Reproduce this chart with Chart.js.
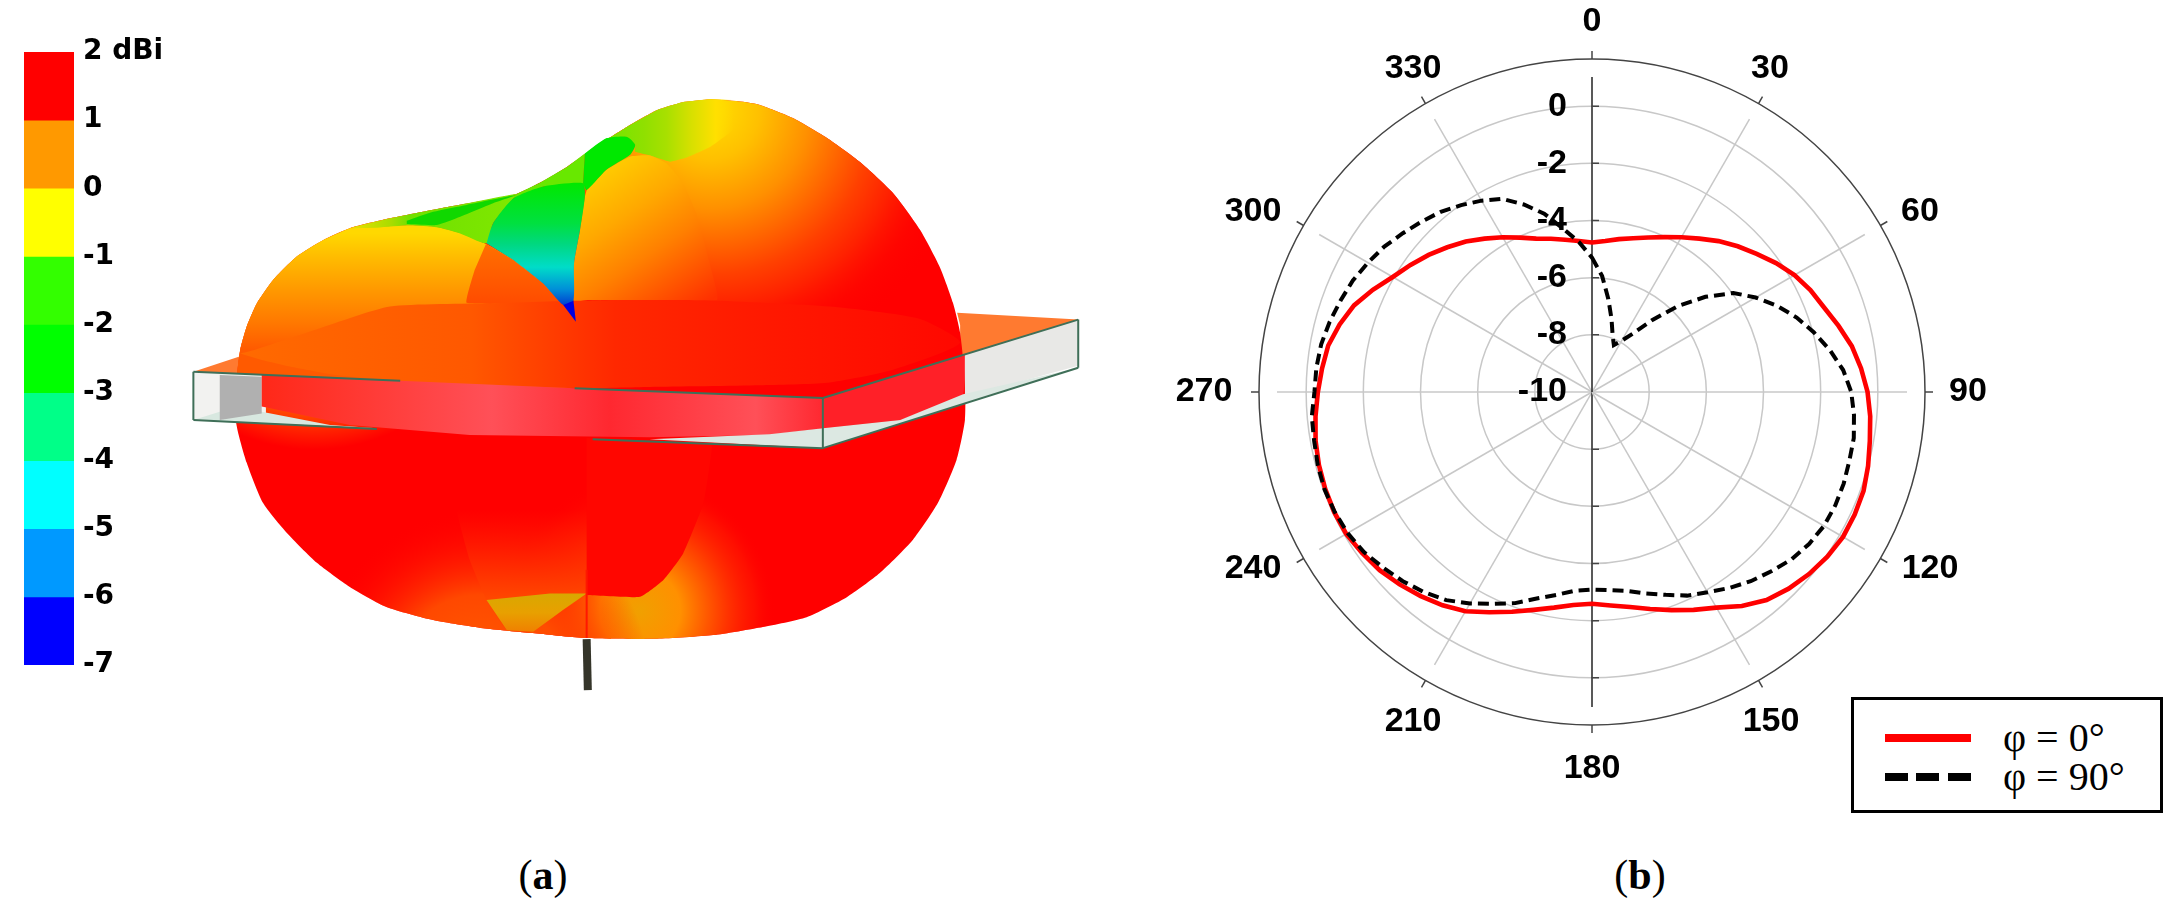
<!DOCTYPE html>
<html>
<head>
<meta charset="utf-8">
<title>Radiation pattern</title>
<script src="https://cdn.jsdelivr.net/npm/chart.js@4"></script>
<style>
  html, body { margin: 0; background: #fff; width: 2169px; height: 922px; overflow: hidden; }
  canvas { position: absolute; display: block; }
  .caption { position: absolute; top: 851px; font: 42px "Liberation Serif", serif; color: #000; transform: translateX(-50%); }
  #legend { position: absolute; left: 1851px; top: 697px; width: 306px; height: 110px; border: 3px solid #000; background: #fff; }
  .swatch { position: absolute; left: 31px; width: 86px; height: 8px; }
  .entry { position: absolute; left: 149px; font: 40px "Liberation Serif", serif; line-height: 40px; white-space: nowrap; }
</style>
</head>
<body>
<canvas id="barChart" width="174" height="700" style="left:0;top:0"></canvas>
<canvas id="patternChart" width="940" height="640" style="left:170px;top:80px"></canvas>
<canvas id="polarChart" width="840" height="784" style="left:1172px;top:0"></canvas>
<div class="caption" style="left:543px">(<b>a</b>)</div>
<div class="caption" style="left:1640px">(<b>b</b>)</div>
<div id="legend"></div>

<script>
// colour bar
const bandLow = [1, 0, -1, -2, -3, -4, -5, -6, -7];
const bandColors = ['#ff0000', '#ff9900', '#ffff00', '#33ff00', '#00ff00', '#00ff88', '#00ffff', '#0099ff', '#0000ff'];

// polar pattern, dB read every 5 degrees
const angles = [0, 5, 10, 15, 20, 25, 30, 35, 40, 45, 50, 55, 60, 65, 70, 75, 80, 85, 90, 95, 100, 105, 110, 115,
  120, 125, 130, 135, 140, 145, 150, 155, 160, 165, 170, 175, 180, 185, 190, 195, 200, 205, 210, 215, 220, 225, 230, 235,
  240, 245, 250, 255, 260, 265, 270, 275, 280, 285, 290, 295, 300, 305, 310, 315, 320, 325, 330, 335, 340, 345, 350, 355];
const phi0 = [-4.77, -4.70, -4.57, -4.43, -4.25, -4.02, -3.75, -3.45, -3.11, -2.79, -2.48, -2.14,
  -1.82, -1.57, -1.36, -1.07, -0.77, -0.55, -0.36, -0.23, -0.13, 0.0, 0.11, 0.14,
  0.14, 0.05, -0.09, -0.27, -0.50, -0.86, -1.29, -1.59, -1.88, -2.14, -2.36, -2.50,
  -2.59, -2.52, -2.34, -2.11, -1.82, -1.50, -1.14, -0.89, -0.68, -0.48, -0.30, -0.18,
  -0.07, -0.05, -0.07, -0.11, -0.18, -0.29, -0.41, -0.52, -0.63, -0.86, -1.14, -1.54,
  -1.95, -2.25, -2.54, -2.84, -3.13, -3.45, -3.75, -4.04, -4.29, -4.45, -4.59, -4.70];
const phi90 = [-5.30, -5.93, -6.70, -7.36, -7.89, -8.19, -7.93, -7.50, -6.71, -5.75, -4.82, -3.96,
  -3.39, -2.86, -2.38, -1.96, -1.55, -1.18, -0.93, -0.80, -0.70, -0.68, -0.63, -0.61,
  -0.63, -0.73, -0.89, -1.13, -1.36, -1.63, -1.91, -2.14, -2.45, -2.70, -2.93, -3.04,
  -3.09, -3.02, -2.79, -2.52, -2.14, -1.82, -1.46, -1.11, -0.86, -0.64, -0.45, -0.25,
  -0.13, -0.07, -0.04, -0.07, -0.13, -0.16, -0.29, -0.32, -0.38, -0.50, -0.64, -0.77,
  -0.95, -1.13, -1.36, -1.57, -1.77, -2.02, -2.27, -2.54, -3.02, -3.54, -4.20, -4.73];
const legendNames = ['φ = 0°', 'φ = 90°'];

// 3D pattern outlines, in sketch units (0-1568 both ways)
const blob = [[901,47],[956,53],[984,61],[1039,93],[1096,142],[1151,201],[1206,277],[1251,367],[1284,458],[1306,546],[1318,620],[1326,735],[1326,833],[1312,931],[1281,1036],[1239,1127],[1184,1208],[1129,1267],[1062,1316],[989,1340],[906,1360],[812,1369],[689,1367],[605,1355],[522,1343],[439,1323],[361,1291],[300,1242],[245,1183],[195,1110],[155,1036],[128,938],[111,845],[110,750],[117,662],[128,604],[145,547],[172,490],[211,433],[256,392],[300,363],[367,339],[467,310],[578,279],[617,252],[662,213],[706,167],[762,115],[812,74],[856,54]];
const leftLobe = [[300,363],[256,392],[211,433],[172,490],[145,547],[128,604],[117,662],[110,750],[110,800],[660,800],[656,551],[622,498],[573,441],[527,402],[484,375],[445,360],[400,356],[345,360]];
const innerLeft = [[527,402],[573,441],[622,498],[656,551],[650,546],[495,546],[508,466]];
const innerRight = [[695,270],[728,220],[767,188],[801,185],[828,204],[856,253],[878,327],[887,376],[906,482],[912,539],[698,539],[673,541],[674,449],[684,367],[692,286]];
const valleyMain = [[528,400],[539,351],[573,290],[623,261],[689,253],[692,286],[684,367],[674,449],[673,541],[656,551],[622,498],[573,441]];
const valleyTip = [[656,551],[673,541],[677,592]];
const valleyStrip = [[300,363],[367,339],[467,310],[578,279],[573,290],[539,351],[528,400],[484,376],[445,361],[400,356],[345,362]];
const darkBand = [[395,353],[445,355],[484,335],[539,302],[578,282],[495,306],[439,323],[395,345]];
const lightPatch = [[578,279],[617,252],[662,213],[692,180],[689,253],[662,261],[623,261],[573,290]];
const valleyTop = [[692,180],[706,167],[762,115],[812,74],[856,54],[901,47],[940,50],[940,120],[900,165],[862,190],[834,200],[801,185],[776,176],[776,159],[762,139],[728,143]];
const ridgeGreen = [[692,180],[728,143],[762,139],[776,159],[767,184],[728,220],[695,270],[689,253]];
const plateLeft = [[39,715],[131,670],[153,686],[200,702],[278,723],[384,737]];
const plateRight = [[1313,570],[1515,587],[1089,779],[670,755],[800,752],[984,742],[1096,742],[1206,710],[1318,644],[1318,600]];
const disc = [[117,670],[139,662],[250,608],[367,555],[534,547],[700,540],[900,540],[1100,555],[1250,585],[1318,644],[1206,710],[1096,742],[984,748],[800,752],[670,755],[384,737],[278,723],[200,702],[153,686]];
const faceLeft = [[39,715],[160,722],[160,825],[39,833]];
const hatchPatch = [[83,723],[153,727],[153,817],[83,833]];
const bottomLeft = [[39,833],[83,813],[153,813],[267,845],[345,853]];
const bandFront = [[153,722],[384,737],[675,755],[1089,779],[1089,853],[1000,870],[800,875],[500,870],[300,845],[153,800]];
const bandRight = [[1089,779],[1326,673],[1326,735],[1323,776],[1218,833],[1089,853]];
const faceRight = [[1326,673],[1515,587],[1515,700],[1326,776]];
const bottomRight = [[1323,770],[1515,705],[1089,902],[800,880],[1000,868],[1089,853],[1218,833]];
const lowerLeft = [[470,874],[478,1054],[500,1176],[528,1274],[562,1348],[606,1352],[656,1298],[695,1258],[695,870]];
const lowerRight = [[695,877],[903,894],[903,914],[890,1036],[856,1160],[823,1225],[784,1266],[695,1262]];
const lowerGold = [[528,1274],[634,1258],[695,1258],[656,1298],[606,1352],[562,1348]];
const axisStrip = [[695,1200],[695,1367]];
const feedRod = [[695,1370],[697,1495]];
const edges = [
  [[39,715],[384,737]], [[675,755],[1089,779]], [[39,833],[345,855]], [[705,880],[1089,902]],
  [[1089,779],[1515,587]], [[1089,902],[1515,705]], [[1515,587],[1515,705]], [[39,715],[39,833]], [[1089,779],[1089,902]]
];

const toXY = pts => pts.map(p => ({ x: p[0], y: p[1] }));

// gradients are worked out from the chart scales so they stay on the shapes
function linear(x0, y0, x1, y1, stops) {
  return ctx => {
    if (!ctx.chart.chartArea) return 'transparent';
    const { x, y } = ctx.chart.scales;
    const g = ctx.chart.ctx.createLinearGradient(x.getPixelForValue(x0), y.getPixelForValue(y0), x.getPixelForValue(x1), y.getPixelForValue(y1));
    stops.forEach(s => g.addColorStop(s[0], s[1]));
    return g;
  };
}
function radial(cx, cy, radius, stops) {
  return ctx => {
    if (!ctx.chart.chartArea) return 'transparent';
    const { x, y } = ctx.chart.scales;
    const px = x.getPixelForValue(cx), py = y.getPixelForValue(cy);
    const g = ctx.chart.ctx.createRadialGradient(px, py, 0, px, py, radius);
    stops.forEach(s => g.addColorStop(s[0], s[1]));
    return g;
  };
}
const shape = (pts, bg, tension) => ({ data: toXY(pts), fill: 'shape', backgroundColor: bg, borderWidth: 0, tension: tension || 0 });
const stroke = (pts, color, width) => ({ data: toXY(pts), fill: false, borderColor: color, borderWidth: width });

// bottom layer first
const layers = [
  shape(plateLeft, '#ff7a30'),
  shape(plateRight, '#ff7a30'),
  shape(blob, '#ff0000', 0.2),
  shape(blob, radial(901, 73, 330, [[0, '#ffe000'], [0.15, '#ffc000'], [0.3, '#ff9000'], [0.42, '#ff6000'], [0.5, '#ff4000'], [0.6, '#ff2000'], [0.7, 'rgba(255,10,0,0.5)'], [0.8, 'rgba(255,0,0,0)']]), 0.2),
  shape(blob, radial(784, 1300, 135, [[0, '#f0a000'], [0.3, '#ff9000'], [0.6, 'rgba(255,70,0,0.9)'], [0.85, 'rgba(255,30,0,0.5)'], [1, 'rgba(255,0,0,0)']]), 0.2),
  shape(blob, radial(517, 1470, 170, [[0, '#ff6000'], [0.5, 'rgba(255,80,0,0.9)'], [1, 'rgba(255,0,0,0)']]), 0.2),
  shape(blob, radial(240, 440, 190, [[0, '#ffb000'], [0.55, '#ff9000'], [0.8, 'rgba(255,110,0,0.7)'], [1, 'rgba(255,90,0,0)']]), 0.2),
  shape(leftLobe, linear(0, 376, 0, 661, [[0, '#ffd800'], [0.2, '#ffbc00'], [0.49, '#ff9800'], [0.77, '#ff7800'], [1, '#ff5a00']]), 0.15),
  shape(innerLeft, linear(0, 402, 0, 546, [[0, '#ff7000'], [1, '#ff4c00']]), 0.1),
  shape(valleyTop, linear(692, 0, 940, 0, [[0, '#60e800'], [0.4, '#90e000'], [0.55, '#a8e000'], [0.72, '#d8e000'], [0.88, '#ffe000'], [1, 'rgba(255,220,0,0)']]), 0.1),
  shape(innerRight, linear(734, 171, 901, 539, [[0, '#ffd400'], [0.35, '#ffa800'], [0.6, '#ff8000'], [1, '#ff3000']]), 0.15),
  shape(lowerLeft, linear(0, 1054, 0, 1274, [[0, 'rgba(255,0,0,0.6)'], [1, 'rgba(255,72,0,1)']]), 0.1),
  shape(lowerRight, '#ff0600', 0.15),
  shape(lowerGold, linear(0, 1258, 0, 1352, [[0, '#d8a800'], [0.5, '#e8a000'], [1, '#f08000']])),
  stroke(axisStrip, '#ff1800', 2),
  shape(disc, linear(120, 0, 1318, 0, [[0, '#ff6a00'], [0.32, '#ff5800'], [0.52, '#ff2800'], [0.74, '#ff1800'], [1, '#ff0800']]), 0.2),
  shape(valleyStrip, linear(300, 0, 578, 0, [[0, '#ece000'], [0.25, '#a8dc00'], [0.36, '#70e000'], [1, '#80e800']]), 0.2),
  shape(darkBand, '#10d800', 0.2),
  shape(lightPatch, '#68e800'),
  shape(ridgeGreen, '#00e800', 0.2),
  shape(valleyMain, linear(0, 253, 0, 551, [[0, '#00e800'], [0.33, '#00e040'], [0.5, '#00d880'], [0.69, '#00dcc8'], [0.87, '#0090d8'], [1, '#0040d0']]), 0.2),
  shape(valleyTip, '#0000e0'),
  shape(faceLeft, '#f2f2f0'),
  shape(bottomLeft, '#d8e8e0'),
  shape(hatchPatch, '#b0b0b0'),
  shape(bandFront, linear(153, 0, 1089, 0, [[0, '#ff2818'], [0.41, '#ff5058'], [0.62, '#ff2830'], [0.88, '#ff5058'], [1, '#ff2830']])),
  shape(bandRight, '#ff2028'),
  shape(faceRight, '#e8e8e6'),
  shape(bottomRight, '#dce8e2'),
  stroke(feedRod, '#35352a', 8)
].concat(edges.map(e => stroke(e, '#3f6f58', 2)));
layers.forEach((d, i) => { d.order = layers.length - i; d.pointRadius = 0; });

new Chart(document.getElementById('patternChart'), {
  type: 'line',
  data: { datasets: layers },
  options: {
    responsive: false,
    animation: false,
    events: [],
    layout: { padding: 0 },
    plugins: { legend: { display: false }, tooltip: { enabled: false }, filler: { drawTime: 'beforeDatasetDraw' } },
    scales: {
      x: { type: 'linear', min: 0, max: 1568, display: false },
      y: { type: 'linear', min: 0, max: 1568, reverse: true, display: false }
    }
  }
});

// colour bar as floating bars on its own axis
new Chart(document.getElementById('barChart'), {
  type: 'bar',
  data: {
    labels: ['dBi'],
    datasets: bandLow.map((low, i) => ({
      data: [[low, low + 1]],
      backgroundColor: bandColors[i],
      grouped: false,
      barPercentage: 1,
      categoryPercentage: 1
    }))
  },
  options: {
    responsive: false,
    animation: false,
    events: [],
    layout: { padding: { left: 24, top: 52, bottom: 35 } },
    plugins: { legend: { display: false }, tooltip: { enabled: false } },
    scales: {
      x: { display: false },
      y: {
        position: 'right',
        min: -7,
        max: 2,
        grid: { display: false },
        border: { display: false },
        afterFit: s => { s.width = 100; },
        ticks: {
          stepSize: 1,
          autoSkip: false,
          padding: 1,
          crossAlign: 'near',
          color: '#000',
          font: { family: '"DejaVu Sans"', size: 28, weight: 'bold' },
          callback: v => (v === 2 ? '2 dBi' : v)
        }
      }
    }
  }
});

// where each angle label sits from the plot centre, 0 to 330 in steps of 30
const angleLabelDx = [0, 178, 328, 376, 338, 179, 0, -179, -339, -388, -339, -179];
const angleLabelDy = [-370, -323, -180, 0, 177, 330, 377, 330, 177, 0, -180, -323];
const labelFont = 'bold 34px "Liberation Sans"';
const polarFrame = {
  id: 'polarFrame',
  beforeDatasetsDraw(chart) {
    const r = chart.scales.r;
    const c = chart.ctx;
    const outer = r.getDistanceFromCenterForValue(1.65);
    c.save();
    c.strokeStyle = '#444';
    c.lineWidth = 1.5;
    c.beginPath();
    c.arc(r.xCenter, r.yCenter, outer, 0, Math.PI * 2);
    c.stroke();
    c.font = labelFont;
    c.fillStyle = '#000';
    c.textAlign = 'center';
    c.textBaseline = 'middle';
    angles.forEach((a, i) => {
      if (a % 30) return;
      const p0 = r.getPointPosition(i, outer);
      const p1 = r.getPointPosition(i, outer + 8);
      c.beginPath();
      c.moveTo(p0.x, p0.y);
      c.lineTo(p1.x, p1.y);
      c.stroke();
      c.fillText(String(a), r.xCenter + angleLabelDx[a / 30], r.yCenter + angleLabelDy[a / 30]);
    });
    // value labels sit left of the vertical axis
    c.textAlign = 'right';
    r.ticks.forEach(t => {
      const d = r.getDistanceFromCenterForValue(t.value);
      c.fillText(String(t.value), r.xCenter - 25, r.yCenter - d);
      if (d > 0) {
        c.beginPath();
        c.moveTo(r.xCenter, r.yCenter - d);
        c.lineTo(r.xCenter + 7, r.yCenter - d);
        c.moveTo(r.xCenter, r.yCenter + d);
        c.lineTo(r.xCenter + 7, r.yCenter + d);
        c.stroke();
      }
    });
    c.restore();
  }
};

new Chart(document.getElementById('polarChart'), {
  type: 'radar',
  data: {
    labels: angles,
    datasets: [
      { label: legendNames[1], data: phi90, borderColor: '#000', borderWidth: 4, borderDash: [11, 6], pointRadius: 0, fill: false },
      { label: legendNames[0], data: phi0, borderColor: '#ff0000', borderWidth: 4.6, pointRadius: 0, fill: false }
    ]
  },
  options: {
    responsive: false,
    animation: false,
    events: [],
    layout: { padding: { left: 105, right: 105, top: 77, bottom: 77 } },
    plugins: { legend: { display: false }, tooltip: { enabled: false } },
    scales: {
      r: {
        min: -10,
        max: 1.02,
        bounds: 'data',
        ticks: { display: false, stepSize: 2, includeBounds: false },
        grid: { circular: true, color: '#c8c8c8', lineWidth: 1.5 },
        angleLines: {
          color: c => (angles[c.index] % 180 === 0 ? '#222' : '#c8c8c8'),
          lineWidth: c => (angles[c.index] % 30 === 0 ? 1.5 : 0)
        },
        pointLabels: { display: false }
      }
    }
  },
  plugins: [polarFrame]
});

// legend box
const legendBox = document.getElementById('legend');
legendBox.innerHTML =
  '<div class="swatch" style="top:34px;background:#ff0000"></div>' +
  '<div class="swatch" style="top:73px;background:repeating-linear-gradient(90deg,#000 0,#000 23px,#fff 23px,#fff 31.5px)"></div>' +
  '<div class="entry" style="top:18px">' + legendNames[0] + '</div>' +
  '<div class="entry" style="top:57px">' + legendNames[1] + '</div>';
</script>
</body>
</html>
